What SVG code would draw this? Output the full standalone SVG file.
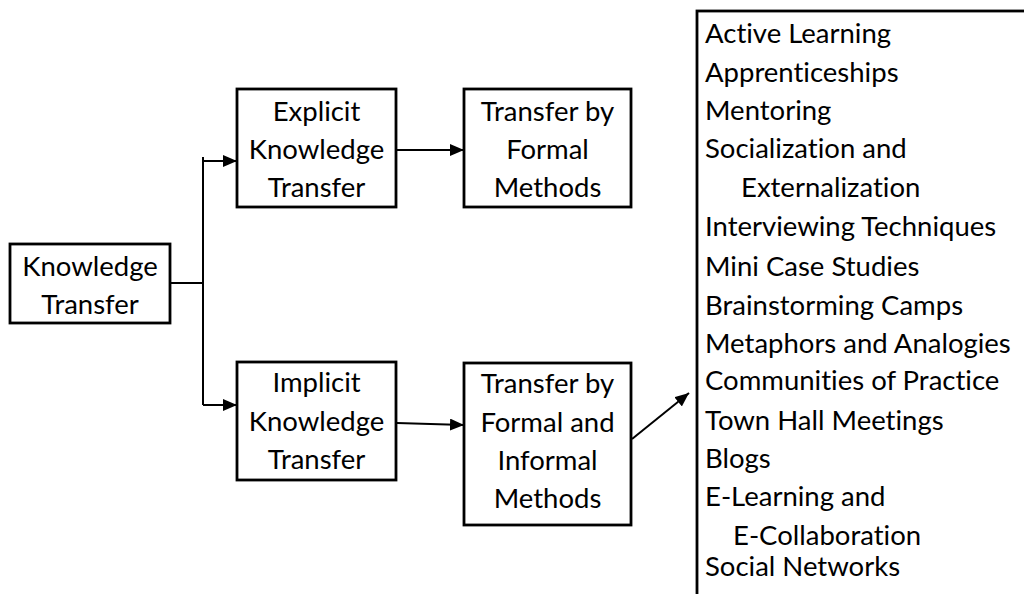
<svg xmlns="http://www.w3.org/2000/svg" width="1024" height="594" viewBox="0 0 1024 594">
<style>
.box{fill:#fff;stroke:#000;stroke-width:2.8}
.t{font-family:Lato,"Liberation Sans",sans-serif;font-size:27.5px;fill:#000;font-variant-ligatures:none}
.c{text-anchor:middle}
.ln{fill:none;stroke:#000;stroke-width:2}
</style>
<defs>
<marker id="ah" viewBox="0 0 14 12" refX="14" refY="6" markerWidth="14" markerHeight="12" markerUnits="userSpaceOnUse" orient="auto">
<path d="M0,0 L14,6 L0,12 Z" fill="#000"/>
</marker>
</defs>
<g id="connectors">
<path class="ln" d="M170,283 H203"/>
<path class="ln" d="M203,157 V405"/>
<path class="ln" d="M203,161 H237" marker-end="url(#ah)"/>
<path class="ln" d="M203,405 H237" marker-end="url(#ah)"/>
<path class="ln" d="M396,150 H464" marker-end="url(#ah)"/>
<path class="ln" d="M397,423 L464,425" marker-end="url(#ah)"/>
<path class="ln" d="M632,439 L689,393" marker-end="url(#ah)"/>
</g>
<g id="knowledge-transfer">
<rect class="box" x="10" y="244" width="160" height="79"/>
<text class="t c" x="90" y="276">Knowledge</text>
<text class="t c" x="90" y="314">Transfer</text>
</g>
<g id="explicit">
<rect class="box" x="237" y="89" width="159" height="118"/>
<text class="t c" x="316.5" y="121">Explicit</text>
<text class="t c" x="316.5" y="159">Knowledge</text>
<text class="t c" x="316.5" y="197">Transfer</text>
</g>
<g id="formal">
<rect class="box" x="464" y="89" width="167" height="118"/>
<text class="t c" x="547.5" y="121">Transfer by</text>
<text class="t c" x="547.5" y="159">Formal</text>
<text class="t c" x="547.5" y="197">Methods</text>
</g>
<g id="implicit">
<rect class="box" x="237" y="362" width="159" height="118"/>
<text class="t c" x="316.5" y="392">Implicit</text>
<text class="t c" x="316.5" y="431">Knowledge</text>
<text class="t c" x="316.5" y="469">Transfer</text>
</g>
<g id="formal-informal">
<rect class="box" x="464" y="363" width="167" height="162"/>
<text class="t c" x="547.5" y="393">Transfer by</text>
<text class="t c" x="547.5" y="432">Formal and</text>
<text class="t c" x="547.5" y="470">Informal</text>
<text class="t c" x="547.5" y="508">Methods</text>
</g>
<g id="methods-list">
<rect class="box" x="697" y="11" width="340" height="600"/>
<text class="t" x="705" y="43">Active Learning</text>
<text class="t" x="705" y="82">Apprenticeships</text>
<text class="t" x="705" y="120">Mentoring</text>
<text class="t" x="705" y="158">Socialization and</text>
<text class="t" x="741" y="197">Externalization</text>
<text class="t" x="705" y="236">Interviewing Techniques</text>
<text class="t" x="705" y="276">Mini Case Studies</text>
<text class="t" x="705" y="315">Brainstorming Camps</text>
<text class="t" x="705" y="353">Metaphors and Analogies</text>
<text class="t" x="705" y="390">Communities of Practice</text>
<text class="t" x="705" y="430">Town Hall Meetings</text>
<text class="t" x="705" y="468">Blogs</text>
<text class="t" x="705" y="506">E-Learning and</text>
<text class="t" x="733" y="545">E-Collaboration</text>
<text class="t" x="705" y="576">Social Networks</text>
</g>
</svg>
